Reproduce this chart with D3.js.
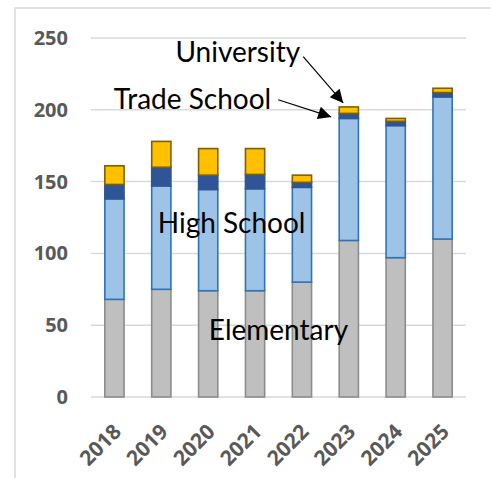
<!DOCTYPE html>
<html>
<head>
<meta charset="utf-8">
<script src="https://cdn.jsdelivr.net/npm/d3@7"></script>
<style>
  body { margin: 0; background: #fff; }
  svg { display: block; }
</style>
</head>
<body>
<svg></svg>
<script>
// chart data
const years = ['2018', '2019', '2020', '2021', '2022', '2023', '2024', '2025']
const elementary = [68, 75, 74, 74, 80, 109, 97, 110]
const highSchool = [70, 72, 70.5, 71, 66, 85, 92, 99]
const tradeSchool = [10, 13, 10, 10, 3.5, 3.5, 3, 3]
const university = [13, 18, 18.5, 18, 5, 4.5, 2, 3]
const yTicks = [0, 50, 100, 150, 200, 250]

const seriesKeys = ['Elementary', 'High School', 'Trade School', 'University']
const fills = ['#bfbfbf', '#9dc3e6', '#2f5597', '#ffc000']
const strokes = ['#8c8c8c', '#2e75b6', '#2f5597', '#7f6000']

const width = 491
const height = 478

// plot area, inside the frame
const margin = { top: 38, right: 25, bottom: 81, left: 91 }

const table = years.map((y, i) => ({
    year: y,
    'Elementary': elementary[i],
    'High School': highSchool[i],
    'Trade School': tradeSchool[i],
    'University': university[i]
}))

const stacked = d3.stack().keys(seriesKeys)(table)

const xScale = d3.scaleBand()
    .domain(years)
    .range([margin.left, width - margin.right])
    .paddingInner(0.59)
    .paddingOuter(0.295)

const yScale = d3.scaleLinear()
    .domain([0, 250])
    .range([height - margin.bottom, margin.top])

const svg = d3.select('svg')
    .attr('width', width)
    .attr('height', height)

// chart frame (runs off the right and bottom edge like the original crop)
svg.append('rect')
    .attr('x', 15)
    .attr('y', 8)
    .attr('width', width)
    .attr('height', height)
    .attr('fill', 'none')
    .attr('stroke', '#d9d9d9')
    .attr('stroke-width', 1.5)

// gridlines
svg.append('g')
    .selectAll('line')
    .data(yTicks)
    .join('line')
    .attr('x1', margin.left)
    .attr('x2', width - margin.right)
    .attr('y1', d => yScale(d))
    .attr('y2', d => yScale(d))
    .attr('stroke', '#d9d9d9')
    .attr('stroke-width', 1.5)

// y axis labels
const yAxis = d3.axisLeft(yScale).tickValues(yTicks).tickSize(0).tickPadding(23)
const yAxisG = svg.append('g')
    .attr('transform', `translate(${margin.left}, 0)`)
    .call(yAxis)
yAxisG.select('.domain').remove()
yAxisG.selectAll('text')
    .attr('fill', '#595959')
    .style('font', 'bold 20px "Open Sans", sans-serif')

// x axis labels, rotated
const xAxis = d3.axisBottom(xScale).tickSize(0).tickPadding(0)
const xAxisG = svg.append('g')
    .attr('transform', `translate(0, ${height - margin.bottom})`)
    .call(xAxis)
xAxisG.select('.domain').remove()
xAxisG.selectAll('text')
    .attr('fill', '#595959')
    .attr('text-anchor', 'end')
    .attr('dy', null)
    .attr('transform', 'translate(8, 36) rotate(-45)')
    .style('font', 'bold 21px "Open Sans", sans-serif')

// stacked bars
svg.append('g')
    .selectAll('g')
    .data(stacked)
    .join('g')
    .attr('fill', (d, i) => fills[i])
    .attr('stroke', (d, i) => strokes[i])
    .attr('stroke-width', 1.6)
    .selectAll('rect')
    .data(d => d.map(p => ({ year: p.data.year, y0: p[0], y1: p[1] })))
    .join('rect')
    .attr('x', d => xScale(d.year))
    .attr('width', xScale.bandwidth())
    .attr('y', d => yScale(d.y1))
    .attr('height', d => yScale(d.y0) - yScale(d.y1))

// in-chart labels
const between = (a, b) => (xScale(a) + xScale(b)) / 2 + xScale.bandwidth() / 2
const labelFont = '28px Lato, "Open Sans", sans-serif'

svg.append('text')
    .attr('x', between('2021', '2022'))
    .attr('y', yScale(40))
    .attr('text-anchor', 'middle')
    .style('font', labelFont)
    .text('Elementary')

svg.append('text')
    .attr('x', between('2020', '2021'))
    .attr('y', yScale(114))
    .attr('text-anchor', 'middle')
    .style('font', labelFont)
    .text('High School')

svg.append('defs').append('marker')
    .attr('id', 'arrow')
    .attr('viewBox', '0 0 10 10')
    .attr('refX', 10)
    .attr('refY', 5)
    .attr('markerWidth', 15)
    .attr('markerHeight', 13)
    .attr('markerUnits', 'userSpaceOnUse')
    .attr('orient', 'auto')
    .append('path')
    .attr('d', 'M0,0 L10,5 L0,10 Z')
    .attr('fill', '#000')

// annotations pointing at the 2023 bar
const x2023 = xScale('2023')
const uniTop = elementary[5] + highSchool[5] + tradeSchool[5] + university[5]
const tradeMid = elementary[5] + highSchool[5] + tradeSchool[5] / 2

svg.append('text')
    .attr('x', x2023 - 39)
    .attr('y', yScale(233.5))
    .attr('text-anchor', 'end')
    .style('font', labelFont)
    .text('University')

svg.append('line')
    .attr('x1', x2023 - 36)
    .attr('y1', yScale(237))
    .attr('x2', x2023 + 4)
    .attr('y2', yScale(uniTop) - 4)
    .attr('stroke', '#000')
    .attr('stroke-width', 1.2)
    .attr('marker-end', 'url(#arrow)')

svg.append('text')
    .attr('x', x2023 - 68)
    .attr('y', yScale(200.5))
    .attr('text-anchor', 'end')
    .style('font', labelFont)
    .text('Trade School')

svg.append('line')
    .attr('x1', x2023 - 61)
    .attr('y1', yScale(207))
    .attr('x2', x2023 - 8)
    .attr('y2', yScale(tradeMid) + 1)
    .attr('stroke', '#000')
    .attr('stroke-width', 1.2)
    .attr('marker-end', 'url(#arrow)')
</script>
</body>
</html>
